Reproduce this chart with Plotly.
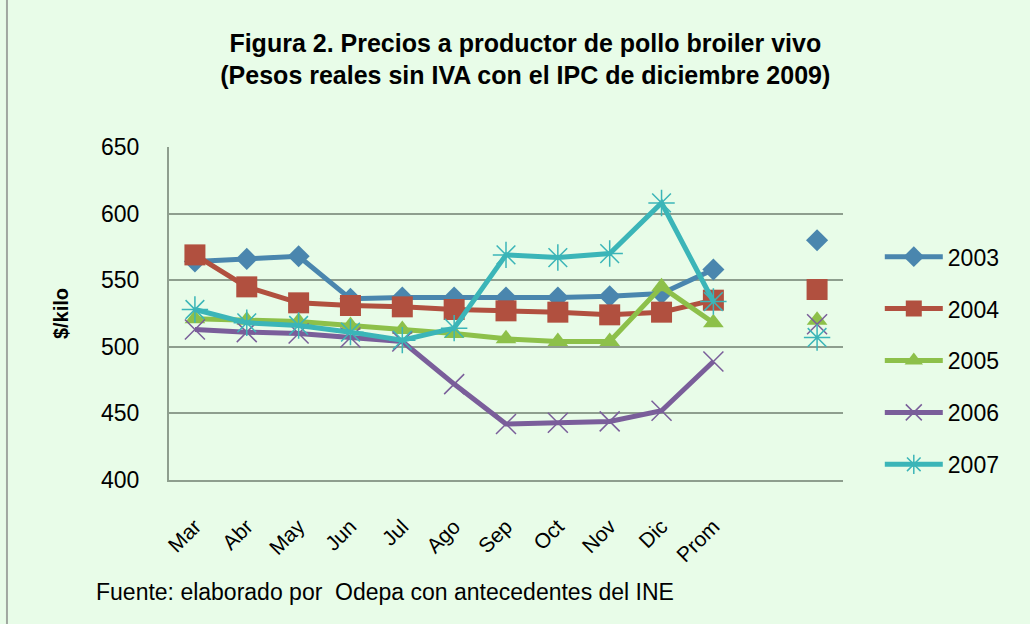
import plotly.graph_objects as go

months = ["Mar", "Abr", "May", "Jun", "Jul", "Ago", "Sep", "Oct", "Nov", "Dic", "Prom", "", ""]
x_pos = list(range(len(months)))

y2003 = [564, 566, 568, 536, 537, 537, 537, 537, 538, 540, 558, None, 580]
y2004 = [569, 545, 533, 531, 530, 528, 527, 526, 524, 526, 535, None, 543]
y2005 = [521, 520, 519, 516, 513, 510, 506, 504, 504, 545, 518, None, 520]
y2006 = [513, 511, 510, 507, 504, 472, 442, 443, 444, 452, 489, None, 517]
y2007 = [528, 518, 516, 511, 505, 514, 569, 567, 570, 608, 534, None, 507]

years = ["2003", "2004", "2005", "2006", "2007"]
series = [y2003, y2004, y2005, y2006, y2007]
colors = ["#4A86AE", "#B1503F", "#8DC04A", "#7A5E9A", "#3BB5B8"]
symbols = ["diamond", "square", "triangle-up", "x-thin-open", "asterisk-open"]
sizes = [17, 21, 18, 20, 22]

BG = "#E8FCE8"
GRID = "#8E9E8E"

fig = go.Figure()
for name, ys, c, s, sz in zip(years, series, colors, symbols, sizes):
    marker = dict(symbol=s, size=sz, color=c)
    if s.endswith("-open"):
        marker["line"] = dict(color=c, width=1.5)
    fig.add_trace(go.Scatter(
        x=x_pos, y=ys, name=name, mode="lines+markers",
        line=dict(color=c, width=5), marker=marker,
        connectgaps=False, legendgroup=name,
    ))

fig.update_layout(
    width=1030, height=624,
    paper_bgcolor=BG, plot_bgcolor=BG,
    margin=dict(l=169, r=187, t=147, b=144),
    font=dict(family="Liberation Sans, Arial, sans-serif", color="#000000"),
    title=dict(
        text="<b>Figura 2. Precios a productor de pollo broiler vivo<br>(Pesos reales sin IVA con el IPC de diciembre 2009)</b>",
        x=0.51, xanchor="center", y=0.917, yanchor="middle",
        font=dict(size=25, color="#000000"),
    ),
    showlegend=True,
    legend=dict(
        x=1.0546, xanchor="left", y=0.735, yanchor="top",
        font=dict(size=23), bgcolor="rgba(0,0,0,0)",
        itemwidth=58, tracegroupgap=19,
    ),
    annotations=[dict(
        text="Fuente: elaborado por  Odepa con antecedentes del INE",
        xref="paper", yref="paper", x=-0.112, y=-0.336,
        xanchor="left", yanchor="middle", showarrow=False,
        font=dict(size=23, color="#000000"),
    )],
    shapes=[dict(type="line", xref="paper", yref="paper",
                 x0=-0.2404, x1=-0.2404, y0=-0.45, y1=1.45,
                 line=dict(color="#A0A8A0", width=2))],
)

fig.update_xaxes(
    tickmode="array", tickvals=x_pos, ticktext=months,
    range=[-0.5, len(months) - 0.5], tickangle=-45,
    showgrid=False, showline=True, linecolor=GRID, linewidth=2,
    ticks="", tickfont=dict(size=21), ticklabelstandoff=24,
    zeroline=False,
)
fig.update_yaxes(
    range=[400, 650], tickvals=[400, 450, 500, 550, 600, 650],
    showgrid=True, gridcolor=GRID, gridwidth=2,
    showline=True, linecolor=GRID, linewidth=2,
    ticks="", tickfont=dict(size=23), ticklabelstandoff=23,
    title=dict(text="<b>$/kilo</b>", font=dict(size=20), standoff=27),
    zeroline=False,
)

fig.write_html("out.html", config={"displayModeBar": False},
               post_script="document.body.style.margin='0';")
